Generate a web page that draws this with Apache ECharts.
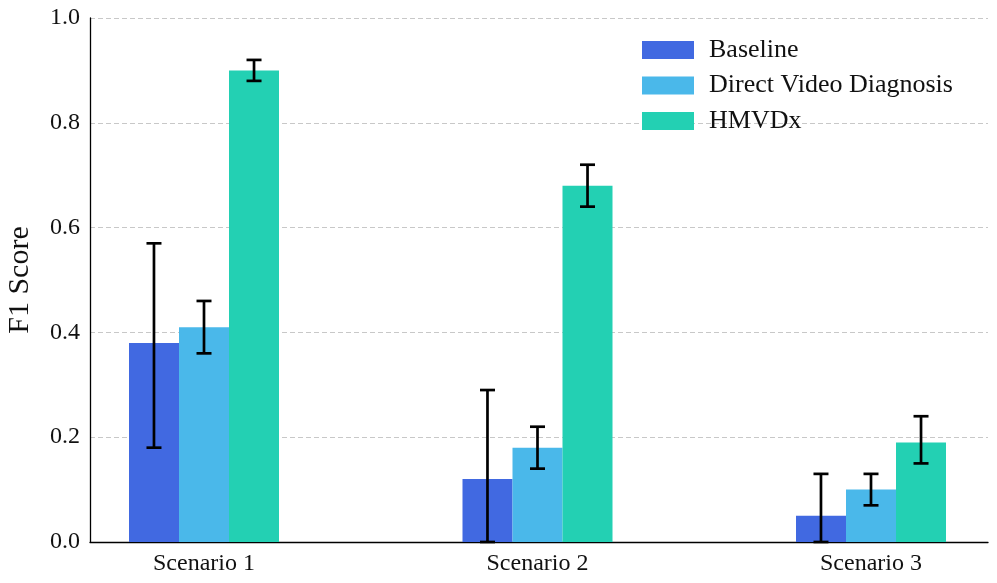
<!DOCTYPE html>
<html><head><meta charset="utf-8">
<script src="https://cdn.jsdelivr.net/npm/echarts@6/dist/echarts.min.js"></script>
<style>html,body{margin:0;padding:0;background:#fff}#c{width:997px;height:583px}</style>
</head><body><div id="c"></div>
<script>
const categories = ['Scenario 1', 'Scenario 2', 'Scenario 3'];
const seriesNames = ['Baseline', 'Direct Video Diagnosis', 'HMVDx'];
const baseline = [0.38, 0.12, 0.05];
const direct = [0.41, 0.18, 0.10];
const hmvdx = [0.90, 0.68, 0.19];
const baselineLow = [0.18, 0.0, 0.0];
const baselineHigh = [0.57, 0.29, 0.13];
const directLow = [0.36, 0.14, 0.07];
const directHigh = [0.46, 0.22, 0.13];
const hmvdxLow = [0.88, 0.64, 0.15];
const hmvdxHigh = [0.92, 0.72, 0.24];
const yTicks = [0.0, 0.2, 0.4, 0.6, 0.8, 1.0];

const colors = ['#4169E1', '#4AB8EA', '#23D0B3'];
const FONT = 'Liberation Serif';
const values = [baseline, direct, hmvdx];
const lows = [baselineLow, directLow, hmvdxLow];
const highs = [baselineHigh, directHigh, hmvdxHigh];

const chart = echarts.init(document.getElementById('c'));

const barSeries = seriesNames.map((n, i) => ({
  name: n, type: 'bar', xAxisIndex: 1, yAxisIndex: 1,
  data: values[i], barWidth: 50, barGap: '0%',
  itemStyle: { color: colors[i] }, z: 2
}));

const errSeries = seriesNames.map((n, i) => ({
  type: 'custom', xAxisIndex: 1, yAxisIndex: 1, z: 5, silent: true,
  data: categories.map((c, k) => [k, lows[i][k], highs[i][k]]),
  renderItem: function (params, api) {
    const k = api.value(0);
    const band = api.size([1, 0])[0];
    const off = (i - 1) * band * 0.15;
    const lo = api.coord([k, api.value(1)]);
    const hi = api.coord([k, api.value(2)]);
    const x = lo[0] + off;
    const cap = 7.5;
    const st = { stroke: '#000', lineWidth: 2.7 };
    return { type: 'group', children: [
      { type: 'line', shape: { x1: x, y1: lo[1], x2: x, y2: hi[1] }, style: st },
      { type: 'line', shape: { x1: x - cap, y1: lo[1], x2: x + cap, y2: lo[1] }, style: st },
      { type: 'line', shape: { x1: x - cap, y1: hi[1], x2: x + cap, y2: hi[1] }, style: st }
    ]};
  }
}));

chart.setOption({
  animation: false,
  textStyle: { fontFamily: FONT },
  legend: {
    data: seriesNames, orient: 'vertical', left: 637, top: 32,
    itemWidth: 52, itemHeight: 18, itemGap: 9.5,
    textStyle: { fontFamily: FONT, fontSize: 26, color: '#111', padding: [0, 0, 0, 10] },
    icon: 'rect'
  },
  grid: [
    { left: 90, right: 9, top: 18, bottom: 41, outerBoundsMode: 'none', containLabel: false },
    { left: 37.25, width: 1000.5, top: 18, bottom: 41, outerBoundsMode: 'none', containLabel: false }
  ],
  xAxis: [
    { type: 'value', gridIndex: 0, min: 0, max: 1, axisLabel: { show: false }, axisTick: { show: false },
      splitLine: { show: false }, axisLine: { lineStyle: { color: '#000', width: 1.3 } } },
    { type: 'category', gridIndex: 1, data: categories, axisLine: { show: false }, axisTick: { show: false },
      axisLabel: { fontFamily: FONT, fontSize: 24, color: '#111', margin: 10 } }
  ],
  yAxis: [
    { type: 'value', gridIndex: 0, min: 0, max: 1, interval: 0.2,
      axisLine: { show: true, lineStyle: { color: '#000', width: 1.3 } }, axisTick: { show: false },
      axisLabel: { fontFamily: FONT, fontSize: 24, color: '#111', margin: 10,
        formatter: v => { const t = yTicks.find(y => Math.abs(y - v) < 1e-9); return t === undefined ? '' : t.toFixed(1); } },
      splitLine: { lineStyle: { color: '#c8c8c8', type: [5, 3], width: 1 } },
      name: 'F1 Score', nameLocation: 'middle', nameGap: 55, nameRotate: 90,
      nameTextStyle: { fontFamily: FONT, fontSize: 30, color: '#111' } },
    { type: 'value', gridIndex: 1, min: 0, max: 1, show: false, splitLine: { show: false } }
  ],
  series: [...barSeries, ...errSeries]
});
</script></body></html>
